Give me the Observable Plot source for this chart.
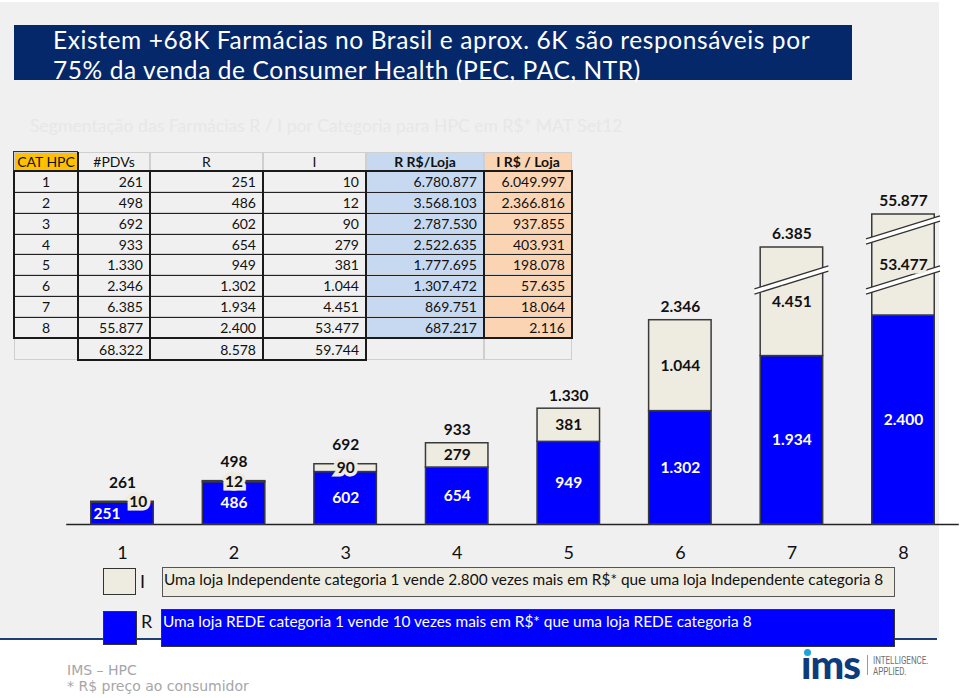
<!DOCTYPE html>
<html>
<head>
<meta charset="utf-8">
<script src="https://cdn.jsdelivr.net/npm/d3@7"></script>
<script src="https://cdn.jsdelivr.net/npm/@observablehq/plot@0.6"></script>
<style>
html, body { margin: 0; padding: 0; background: #ffffff; }
#wrap { position: relative; width: 960px; height: 698px; overflow: hidden; font-family: Lato, "Open Sans", sans-serif; }
#panel { position: absolute; left: 0; top: 2px; width: 939px; height: 636px; background: #f0f0f0; }
#rule { position: absolute; left: 0; top: 638px; width: 937px; height: 2px; background: #1f3e74; }
#title { position: absolute; left: 14px; top: 25px; width: 838px; height: 55px; background: #05286b; color: #fff;
  font-size: 24.5px; line-height: 29.5px; letter-spacing: 0.6px; padding: 0 0 0 39px; box-sizing: border-box; white-space: nowrap; }
#subtitle { position: absolute; left: 30px; top: 115px; font-size: 17.6px; color: #e7e7e7; white-space: nowrap; }
#chart { position: absolute; left: 0; top: 0; }
#table { position: absolute; left: 0; top: 0; font-size: 14px; color: #111; }
.cell { position: absolute; box-sizing: border-box; display: flex; align-items: center; white-space: nowrap; }
.line { position: absolute; }
.leg { position: absolute; box-sizing: border-box; white-space: nowrap; }
#footer1, #footer2 { position: absolute; left: 67px; font-family: "DejaVu Sans", sans-serif; font-size: 14px; color: #a6a6a6; white-space: nowrap; }
</style>
</head>
<body>
<div id="wrap">
  <div id="panel"></div>
  <div id="rule"></div>
  <div id="subtitle"></div>
  <div id="chart"></div>
  <div id="table"></div>
  <div id="title"></div>
  <div id="legend"></div>
  <div id="footer1"></div>
  <div id="footer2"></div>
  <div id="logo"></div>
</div>
<script>
// ---------- data ----------
const titleLines = ["Existem +68K Farmácias no Brasil e aprox. 6K são responsáveis por",
                    "75% da venda de Consumer Health (PEC, PAC, NTR)"];
const subtitleText = "Segmentação das Farmácias R / I por Categoria para HPC em R$* MAT Set12";
const tableHeaders = ["CAT HPC", "#PDVs", "R", "I", "R R$/Loja", "I R$ / Loja"];
const cats = [1, 2, 3, 4, 5, 6, 7, 8];
const pdvs = [261, 498, 692, 933, 1330, 2346, 6385, 55877];
const redeCount = [251, 486, 602, 654, 949, 1302, 1934, 2400];
const indepCount = [10, 12, 90, 279, 381, 1044, 4451, 53477];
const redePerStore = [6780877, 3568103, 2787530, 2522635, 1777695, 1307472, 869751, 687217];
const indepPerStore = [6049997, 2366816, 937855, 403931, 198078, 57635, 18064, 2116];
const totals = [68322, 8578, 59744];
const breakCats = [7, 8, 8];
const breakAt = [4451, 4451, 31900];
// broken value axis: data values -> display units (linear up to 2400, compressed above)
const yDomain = [0, 2400, 6385, 55877];
const warpRange = [0, 2400, 3181, 3560];
const legendI = "Uma loja Independente categoria 1 vende 2.800 vezes mais em R$* que uma loja Independente categoria 8";
const legendR = "Uma loja REDE categoria 1 vende 10 vezes mais em R$* que uma loja REDE categoria 8";
const footerLines = ["IMS – HPC", "* R$ preço ao consumidor"];

// ---------- helpers ----------
const fmt = d3.formatLocale({decimal: ",", thousands: ".", grouping: [3], currency: ["R$", ""]}).format(",d");
const yWarp = d3.scaleLinear().domain(yDomain).range(warpRange);
const BLUE = "#0000ff", BEIGE = "#eeece1";

document.getElementById("title").innerHTML = titleLines.join("<br>");
document.getElementById("subtitle").textContent = subtitleText;
document.getElementById("footer1").textContent = footerLines[0];
document.getElementById("footer1").style.top = "662px";
document.getElementById("footer2").textContent = footerLines[1];
document.getElementById("footer2").style.top = "678px";

// ---------- chart ----------
const segR = cats.map((c, i) => ({cat: c, y1: 0, y2: redeCount[i], v: redeCount[i], thin: pdvs[i] < 300}));
const segI = cats.map((c, i) => ({cat: c, y1: redeCount[i], y2: pdvs[i], v: indepCount[i], thin: pdvs[i] < 300, small: indepCount[i] < 100}));
const breaks = breakCats.map((c, j) => ({cat: c, at: breakAt[j]}));
const mid = d => (yWarp(d.y1) + yWarp(d.y2)) / 2;

const breakMark = (index, scales) => {
  const {x, y} = scales;
  const g = d3.create("svg:g");
  for (const b of breaks) {
    const cx = x(b.cat), cy = y(yWarp(b.at));
    const hw = 37, s = 11.5, gap = 2.6;
    g.append("path")
      .attr("d", `M${cx - hw},${cy + s + gap}L${cx + hw},${cy - s + gap}L${cx + hw},${cy - s - gap}L${cx - hw},${cy + s - gap}Z`)
      .attr("fill", "#ffffff");
    g.append("path")
      .attr("d", `M${cx - hw},${cy + s + gap}L${cx + hw},${cy - s + gap}M${cx - hw},${cy + s - gap}L${cx + hw},${cy - s - gap}`)
      .attr("fill", "none").attr("stroke", "#333").attr("stroke-width", 1.3);
  }
  return g.node();
};

const chart = Plot.plot({
  width: 960,
  height: 698,
  marginLeft: 122,
  marginRight: 57,
  marginTop: 214,
  marginBottom: 174,
  style: {background: "transparent", fontFamily: "Lato, sans-serif", fontSize: "18px", color: "#111", overflow: "visible"},
  x: {domain: [1, 8], ticks: cats, tickFormat: d => String(d), tickSize: 0, tickPadding: 22, label: null},
  y: {domain: [0, warpRange[warpRange.length - 1]], axis: null},
  marks: [
    Plot.ruleY([0], {x1: 0.5, x2: 8.5, stroke: "#222", strokeWidth: 1.5}),
    Plot.rect(segR, {x1: d => d.cat - 0.28, x2: d => d.cat + 0.28, y1: d => yWarp(d.y1), y2: d => yWarp(d.y2),
      fill: BLUE, stroke: "#3a3a3a", strokeWidth: 1.5}),
    Plot.rect(segI, {x1: d => d.cat - 0.28, x2: d => d.cat + 0.28, y1: d => yWarp(d.y1), y2: d => yWarp(d.y2),
      fill: BEIGE, stroke: "#3a3a3a", strokeWidth: 1.5}),
    breakMark,
    // R labels (white)
    Plot.text(segR, {x: d => d.cat - (d.thin ? 0.14 : 0), y: mid, text: d => fmt(d.v),
      fill: "#ffffff", fontWeight: "bold", fontSize: 15.5}),
    // I labels
    Plot.text(segI, {x: d => d.cat + (d.thin ? 0.14 : 0), y: mid, text: d => fmt(d.v),
      fill: "#111", stroke: BEIGE, strokeWidth: 7, strokeLinejoin: "miter", paintOrder: "stroke", fontWeight: "bold", fontSize: 15.5}),
    // totals
    Plot.text(segI.filter(d => !d.small), {x: "cat", y: d => yWarp(d.y2), text: d => fmt(d.y2), dy: -13, fill: "#111", fontWeight: "bold", fontSize: 15.5}),
    Plot.text(segI.filter(d => d.small), {x: "cat", y: d => yWarp(d.y2), text: d => fmt(d.y2), dy: -19, fill: "#111", fontWeight: "bold", fontSize: 15.5})
  ]
});
document.getElementById("chart").appendChild(chart);

// ---------- table ----------
const colEdges = [14, 78, 150, 263, 366, 484, 572];
const rowEdges = [152, 171, 192, 213, 234, 254, 275, 296, 317, 338, 360];
const tbl = document.getElementById("table");
function addCell(c, r, text, opts = {}) {
  const d = document.createElement("div");
  d.className = "cell";
  d.style.left = colEdges[c] + "px";
  d.style.top = rowEdges[r] + "px";
  d.style.width = (colEdges[c + 1] - colEdges[c]) + "px";
  d.style.height = (rowEdges[r + 1] - rowEdges[r]) + "px";
  d.style.justifyContent = opts.align === "right" ? "flex-end" : "center";
  d.style.paddingRight = opts.align === "right" ? "6px" : "0";
  if (opts.bg) d.style.background = opts.bg;
  if (opts.bold) d.style.fontWeight = "bold";
  d.style.border = "1px solid #cfcfcf";
  d.textContent = text;
  tbl.appendChild(d);
}
function addLine(x, y, w, h, color) {
  const d = document.createElement("div");
  d.className = "line";
  d.style.left = x + "px"; d.style.top = y + "px";
  d.style.width = w + "px"; d.style.height = h + "px";
  d.style.background = color;
  tbl.appendChild(d);
}
const headerBg = ["#ffc000", null, null, null, "#c6d9f0", "#fbd4b4"];
tableHeaders.forEach((h, c) => addCell(c, 0, h, {bg: headerBg[c], bold: c >= 4}));
cats.forEach((cat, i) => {
  const r = i + 1;
  addCell(0, r, String(cat));
  addCell(1, r, fmt(pdvs[i]), {align: "right"});
  addCell(2, r, fmt(redeCount[i]), {align: "right"});
  addCell(3, r, fmt(indepCount[i]), {align: "right"});
  addCell(4, r, fmt(redePerStore[i]), {align: "right", bg: "#c6d9f0"});
  addCell(5, r, fmt(indepPerStore[i]), {align: "right", bg: "#fbd4b4"});
});
addCell(0, 9, "");
totals.forEach((t, k) => addCell(k + 1, 9, fmt(t), {align: "right"}));
addCell(4, 9, ""); addCell(5, 9, "");
// black grid of data block
const tTop = rowEdges[1], tBot = rowEdges[9];
for (let r = 2; r < 9; r++) addLine(colEdges[0], rowEdges[r] - 0.5, colEdges[6] - colEdges[0], 1, "#222");
for (let c = 1; c < 6; c++) addLine(colEdges[c] - 1, tTop, 2, tBot - tTop, "#1a1a1a");
addLine(colEdges[0] - 1, tTop - 1, colEdges[6] - colEdges[0] + 2, 2, "#1a1a1a");
addLine(colEdges[0] - 1, tBot - 1, colEdges[6] - colEdges[0] + 2, 2, "#1a1a1a");
addLine(colEdges[0] - 1, tTop - 1, 2, tBot - tTop + 2, "#1a1a1a");
addLine(colEdges[6] - 1, tTop - 1, 2, tBot - tTop + 2, "#1a1a1a");
// header CAT HPC outline + separator
addLine(colEdges[0] - 1, rowEdges[0], 1, rowEdges[1] - rowEdges[0], "#333");
addLine(colEdges[0] - 1, rowEdges[0] - 1, colEdges[1] - colEdges[0] + 1, 1, "#333");
addLine(colEdges[1] - 1, rowEdges[0], 2, rowEdges[1] - rowEdges[0], "#1a1a1a");
// totals box
for (let c = 1; c <= 4; c++) addLine(colEdges[c] - 1, rowEdges[9], 2, rowEdges[10] - rowEdges[9] + 1, "#1a1a1a");
addLine(colEdges[1] - 1, rowEdges[10] - 1, colEdges[4] - colEdges[1] + 2, 2, "#1a1a1a");

// ---------- legend ----------
const leg = document.getElementById("legend");
function addLeg(style, text) {
  const d = document.createElement("div");
  d.className = "leg";
  Object.assign(d.style, style);
  if (text) d.textContent = text;
  leg.appendChild(d);
}
addLeg({left: "103px", top: "568px", width: "33px", height: "27px", background: BEIGE, border: "1px solid #333"});
addLeg({left: "140px", top: "570px", fontSize: "18px", color: "#111"}, "I");
addLeg({left: "162px", top: "567px", width: "733px", height: "30px", background: BEIGE, border: "1px solid #555",
  fontSize: "15.4px", color: "#111", paddingLeft: "1px", lineHeight: "22px"}, legendI);
addLeg({left: "103px", top: "611px", width: "34px", height: "34px", background: BLUE, border: "1px solid #333"});
addLeg({left: "141px", top: "610px", fontSize: "18px", color: "#111"}, "R");
addLeg({left: "161px", top: "609px", width: "734px", height: "38px", background: BLUE, border: "1px solid #333",
  fontSize: "15.4px", color: "#fff", paddingLeft: "1px", lineHeight: "22px"}, legendR);

// ---------- logo ----------
const logo = document.getElementById("logo");
logo.innerHTML =
  '<div style="position:absolute;left:801px;top:640px;font-family:Lato;font-weight:900;font-size:40px;color:#0d3b7d;letter-spacing:-1px">ıms</div>' +
  '<div style="position:absolute;left:804px;top:649px;width:7px;height:7px;border-radius:50%;background:#1aa3dc"></div>' +
  '<div style="position:absolute;left:867px;top:655px;width:1px;height:20px;background:#999"></div>' +
  '<div style="position:absolute;left:873px;top:655px;font-family:Roboto;font-size:10px;line-height:11px;color:#707070;transform:scaleX(0.8);transform-origin:0 0">INTELLIGENCE.<br>APPLIED.</div>';
</script>
</body>
</html>
